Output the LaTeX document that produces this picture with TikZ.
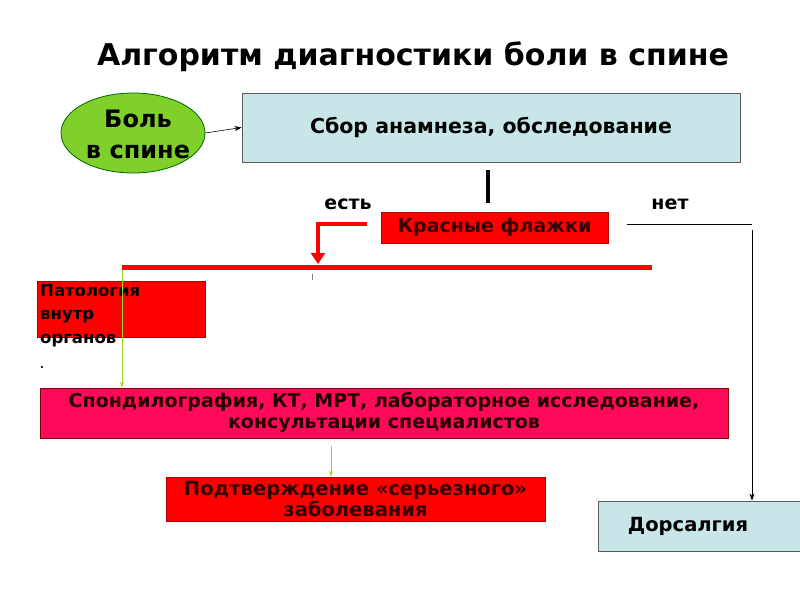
\documentclass[tikz,border=0pt]{standalone}
\usepackage{fontspec}
\setmainfont{DejaVu Sans}
\usetikzlibrary{shapes.geometric,arrows.meta}
\definecolor{lblue}{HTML}{C8E6E8}
\definecolor{pinkred}{HTML}{FF0A5A}
\definecolor{ellg}{HTML}{7FD02A}
\begin{document}
\begin{tikzpicture}[x=1pt,y=-1pt,
  lbl/.style={font=\bfseries},
  redbox/.style={fill=red,draw=red!70!black,line width=0.8pt,font=\bfseries,text=black!80!red},
  bluebox/.style={fill=lblue,draw=gray!70!black,line width=0.8pt,font=\bfseries},
  thinarr/.style={-{Stealth[length=7pt,width=5pt]},line width=0.6pt},
  grarr/.style={-{Stealth[length=6pt,width=4pt]},line width=0.7pt,draw=yellow!60!green}]
\useasboundingbox[fill=white] (0,0) rectangle (800,600);
\node[font=\bfseries\fontsize{30}{32}\selectfont] (title) at (413,57) {Алгоритм диагностики боли в спине};
\node[ellipse,inner sep=0pt,minimum width=144pt,minimum height=80pt,fill=ellg,draw=green!40!black,line width=0.8pt] (pain) at (133,133) {};
\node[align=center,font=\bfseries\fontsize{24}{31}\selectfont] (paintxt) at (138,134) {Боль\\ в спине};
\node[bluebox,minimum width=498pt,minimum height=69pt,font=\bfseries\fontsize{20.5}{22}\selectfont] (sbor) at (491,127.5) {Сбор анамнеза, обследование};
\draw[thinarr] (pain.east) -- (sbor.west);
\coordinate (v1) at (488,170); \coordinate (v2) at (488,203);
\draw[line width=4pt] (v1) -- (v2);
\node[lbl,font=\bfseries\fontsize{19}{20}\selectfont] (yes) at (348,204) {есть};
\node[lbl,font=\bfseries\fontsize{19}{20}\selectfont] (no) at (670,204) {нет};
\node[redbox,minimum width=227pt,minimum height=31pt,font=\bfseries\fontsize{19}{20}\selectfont] (flags) at (494.5,227.5) {Красные флажки};
\coordinate (r1) at (367,224); \coordinate (r2) at (318,224); \coordinate (r3) at (318,264);
\draw[red,line width=4.5pt,-{Triangle[length=11pt,width=14pt]}] (r1) -- (r2) -- (r3);
\coordinate (h1) at (122,267); \coordinate (h2) at (652,267);
\draw[red,line width=5pt] (h1) -- (h2);
\coordinate (t1) at (312,274); \coordinate (t2) at (312,280);
\draw[gray,line width=0.6pt] (t1) -- (t2);
\node[redbox,minimum width=168pt,minimum height=56pt] (pat) at (121,309) {};
\node[anchor=north west,align=left,font=\bfseries\fontsize{16.5}{23.5}\selectfont,text=black,inner sep=1pt] (pattxt) at (39,283) {Патология\\внутр\\органов};
\node[font=\bfseries\fontsize{10}{10}\selectfont] (dot) at (42,368) {.};
\node[fill=pinkred,draw=red!50!black,line width=0.8pt,minimum width=688pt,minimum height=50pt,align=center,font=\bfseries\fontsize{19}{21}\selectfont,text=black!85!red] (spond) at (384,413) {Спондилография, КТ, МРТ, лабораторное исследование,\\консультации специалистов};
\coordinate (g1) at (122,270);
\draw[grarr] (g1) -- (g1 |- spond.north);
\node[redbox,minimum width=379pt,minimum height=44pt,align=center,font=\bfseries\fontsize{19.5}{21}\selectfont] (conf) at (355.5,499) {Подтверждение «серьезного»\\заболевания};
\coordinate (g2) at (331,446);
\draw[grarr] (g2) -- (g2 |- conf.north);
\node[bluebox,minimum width=210pt,minimum height=50pt,font=\bfseries\fontsize{19.5}{20}\selectfont] (dors) at (703,526) {\hspace*{-30pt}Дорсалгия};
\coordinate (n1) at (627,224); \coordinate (n2) at (752,224);
\draw[line width=0.7pt] (n1) -- (n2);
\coordinate (n3) at (752,230);
\draw[thinarr] (n3) -- (n3 |- dors.north);
\end{tikzpicture}
\end{document}
